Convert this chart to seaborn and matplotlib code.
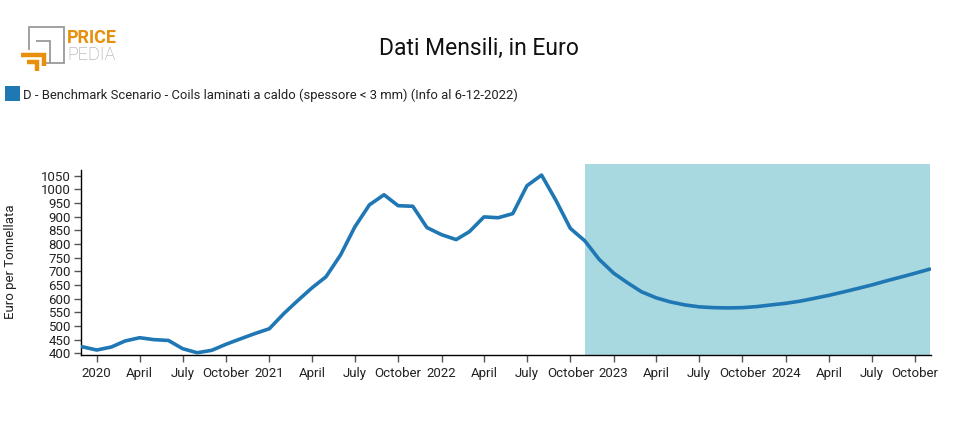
import matplotlib
matplotlib.use('Agg')
import matplotlib.pyplot as plt
import seaborn as sns
import pandas as pd
from matplotlib.patches import Rectangle
from matplotlib.lines import Line2D

# ---------------- data ----------------
start_month = '2019-12-01'
prices = [
    424,                                                        # Dec 2019
    412, 423, 445, 457, 450, 447, 417, 402, 411, 433, 453, 472,  # 2020
    490, 546, 591, 639, 680, 760, 862, 943, 980, 940, 938, 860,  # 2021
    834, 816, 845, 899, 896, 911, 1013, 1052, 958, 857, 811, 744,  # 2022
    693, 656, 625, 603, 588, 577, 570, 567, 566, 567, 571, 577,  # 2023
    583, 591, 601, 612, 624, 637, 650, 665, 679, 693, 708,       # 2024
]
forecast_start = '2022-11-01'
forecast_end = '2024-11-01'
y_ticks = list(range(400, 1051, 50))
month_names = {4: 'April', 7: 'July', 10: 'October'}
title = 'Dati Mensili, in Euro'
legend_label = 'D - Benchmark Scenario - Coils laminati a caldo (spessore < 3 mm) (Info al 6-12-2022)'
y_label = 'Euro per Tonnellata'

# ---------------- style ----------------
sns.set_theme(style='white')
plt.rcParams['font.family'] = ['Roboto', 'DejaVu Sans']

dates = pd.date_range(start_month, periods=len(prices), freq='MS')
df = pd.DataFrame({'date': dates, 'price': prices})

W, H = 960, 430
fig = plt.figure(figsize=(W / 100, H / 100), dpi=100)


def fx(px):
    return px / W


def fy(py):
    return 1 - py / H


ax_left, ax_right, ax_bottom, ax_top = 80.7, 930.7, 354.5, 164.3
ax = fig.add_axes([fx(ax_left), fy(ax_bottom), (ax_right - ax_left) / W, (ax_bottom - ax_top) / H])
ax.set_facecolor('none')

ax.axvspan(pd.Timestamp(forecast_start), pd.Timestamp(forecast_end), color='#a8d8e0', lw=0, zorder=0)
sns.lineplot(data=df, x='date', y='price', ax=ax, color='#1f77b4', linewidth=2.6, zorder=3)

ax.set_xlim(pd.Timestamp('2019-11-28'), pd.Timestamp('2024-11-03'))
ax.set_ylim(395.6, 1091.5)

# x ticks: quarter starts
qticks = pd.date_range('2020-01-01', '2024-10-01', freq='QS')
qlabels = [str(d.year) if d.month == 1 else month_names[d.month] for d in qticks]
ax.set_xticks(qticks)
ax.set_xticklabels(qlabels)
ax.set_yticks(y_ticks)
ax.set_yticklabels([str(v) for v in y_ticks])

ax.tick_params(axis='both', direction='out', length=5, width=1, color='#555555',
               labelsize=9.5, labelcolor='#222222', pad=2, bottom=True, left=True)
ax.tick_params(axis='x', pad=4)
for s in ['top', 'right']:
    ax.spines[s].set_visible(False)
for s in ['left', 'bottom']:
    ax.spines[s].set_color('#000000')
    ax.spines[s].set_linewidth(1)
ax.spines['left'].set_bounds(395.6, 1071)
ax.set_xlabel('')
ax.set_ylabel(y_label, fontsize=9.5, color='#222222')
ax.yaxis.set_label_coords((17 - ax_left) / (ax_right - ax_left), (ax_bottom - 262) / (ax_bottom - ax_top))

# ---------------- title & legend ----------------
fig.text(fx(479), fy(55), title, ha='center', va='baseline', fontsize=16.5, color='#111111')
fig.patches.append(Rectangle((fx(5), fy(101)), 15 / W, 15 / H, transform=fig.transFigure,
                             facecolor='#1f77b4', edgecolor='none'))
fig.text(fx(23), fy(99), legend_label, ha='left', va='baseline', fontsize=9.4, color='#222222')

# ---------------- logo ----------------
gray = '#9a9a9a'
orange = '#e8900c'


def fline(xs, ys, color, lw):
    fig.lines.append(Line2D([fx(x) for x in xs], [fy(y) for y in ys], transform=fig.transFigure,
                            color=color, linewidth=lw, solid_capstyle='butt', solid_joinstyle='miter'))


fline([29, 29, 64, 64, 45], [50, 26.5, 26.5, 62.5, 62.5], gray, 1.3)
fline([36, 50, 50], [41, 41, 62.5], gray, 1.3)
fline([21, 44, 44], [55, 55, 66], orange, 3.2)
fline([27, 37, 37], [62, 62, 71], orange, 3.2)
fig.text(fx(67), fy(43), 'PRICE', ha='left', va='baseline', fontsize=13, fontweight='bold', color=orange)
fig.text(fx(67), fy(60), 'PEDIA', ha='left', va='baseline', fontsize=13, fontweight='light', color=gray)

fig.savefig('out.png', dpi=100)
